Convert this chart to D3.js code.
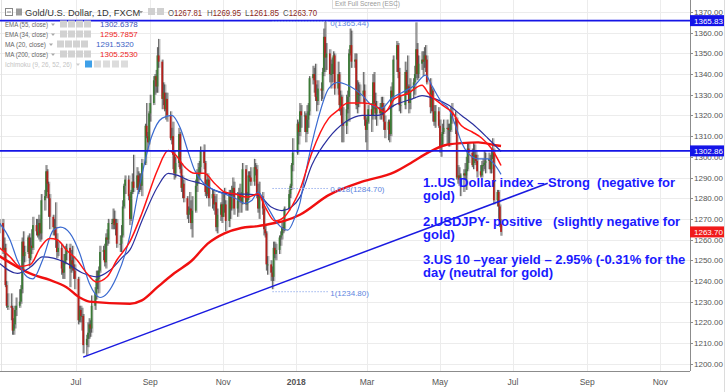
<!DOCTYPE html>
<html><head><meta charset="utf-8">
<script src="https://cdn.jsdelivr.net/npm/d3@7"></script>
<style>html,body{margin:0;padding:0;background:#fff;overflow:hidden}svg{display:block;font-family:"Liberation Sans",Arial,sans-serif}</style>
</head><body><svg id="c" width="727" height="392"></svg>
<script>
// ---------- DATA ----------
// daily candles: date, open, high, low, close
const candles = [
["2017-04-28",1266,1270,1263,1268],["2017-05-01",1268,1270,1253,1255],["2017-05-02",1255,1261,1251,1256],["2017-05-03",1256,1258,1237,1238],["2017-05-04",1238,1240,1227,1228],["2017-05-05",1228,1234,1226,1228],
["2017-05-08",1228,1234,1221,1227],["2017-05-09",1227,1228,1214,1216],["2017-05-10",1216,1222,1214,1219],["2017-05-11",1219,1228,1217,1226],["2017-05-12",1226,1232,1223,1228],
["2017-05-15",1228,1236,1227,1230],["2017-05-16",1230,1238,1229,1236],["2017-05-17",1236,1261,1234,1259],["2017-05-18",1259,1264,1245,1252],["2017-05-19",1252,1257,1249,1254],
["2017-05-22",1254,1262,1253,1261],["2017-05-23",1261,1263,1247,1251],["2017-05-24",1251,1261,1250,1257],["2017-05-25",1257,1265,1253,1256],["2017-05-26",1256,1271,1255,1267],
["2017-05-29",1267,1270,1262,1264],["2017-05-30",1264,1270,1261,1262],["2017-05-31",1262,1272,1260,1268],["2017-06-01",1268,1270,1259,1263],["2017-06-02",1263,1282,1260,1279],
["2017-06-05",1279,1284,1274,1281],["2017-06-06",1281,1296,1280,1293],["2017-06-07",1293,1294,1283,1287],["2017-06-08",1287,1288,1271,1280],["2017-06-09",1280,1282,1265,1271],
["2017-06-12",1271,1272,1262,1266],["2017-06-13",1266,1270,1262,1266],["2017-06-14",1266,1278,1256,1260],["2017-06-15",1260,1263,1251,1254],["2017-06-16",1254,1259,1252,1256],
["2017-06-19",1256,1258,1243,1246],["2017-06-20",1246,1250,1241,1244],["2017-06-21",1244,1253,1241,1249],["2017-06-22",1249,1257,1248,1253],["2017-06-23",1253,1258,1250,1256],
["2017-06-26",1256,1258,1237,1246],["2017-06-27",1246,1255,1244,1250],["2017-06-28",1250,1257,1245,1248],["2017-06-29",1248,1252,1241,1245],["2017-06-30",1245,1248,1236,1241],
["2017-07-03",1241,1242,1219,1221],["2017-07-04",1221,1228,1220,1226],["2017-07-05",1226,1228,1220,1223],["2017-07-06",1223,1227,1216,1223],["2017-07-07",1223,1224,1205,1209],
["2017-07-10",1209,1214,1204,1212],["2017-07-11",1212,1220,1208,1215],["2017-07-12",1215,1222,1212,1219],["2017-07-13",1219,1221,1213,1217],["2017-07-14",1217,1233,1215,1228],
["2017-07-17",1228,1237,1226,1234],["2017-07-18",1234,1245,1231,1241],["2017-07-19",1241,1245,1236,1241],["2017-07-20",1241,1247,1234,1245],["2017-07-21",1245,1257,1244,1254],
["2017-07-24",1254,1257,1250,1255],["2017-07-25",1255,1258,1247,1249],["2017-07-26",1249,1263,1246,1261],["2017-07-27",1261,1265,1257,1260],["2017-07-28",1260,1270,1258,1268],
["2017-07-31",1268,1270,1265,1268],["2017-08-01",1268,1275,1265,1270],["2017-08-02",1270,1274,1265,1267],["2017-08-03",1267,1270,1262,1268],["2017-08-04",1268,1270,1256,1258],
["2017-08-07",1258,1262,1254,1258],["2017-08-08",1258,1267,1254,1262],["2017-08-09",1262,1279,1261,1276],["2017-08-10",1276,1287,1275,1286],["2017-08-11",1286,1291,1282,1289],
["2017-08-14",1289,1291,1279,1281],["2017-08-15",1281,1282,1267,1270],["2017-08-16",1270,1284,1269,1283],["2017-08-17",1283,1292,1282,1288],["2017-08-18",1288,1301,1283,1285],
["2017-08-21",1285,1295,1284,1291],["2017-08-22",1291,1293,1282,1284],["2017-08-23",1284,1292,1283,1288],["2017-08-24",1288,1292,1284,1286],["2017-08-25",1286,1299,1281,1297],
["2017-08-28",1297,1316,1296,1315],["2017-08-29",1315,1326,1309,1310],["2017-08-30",1310,1312,1303,1307],["2017-08-31",1307,1322,1306,1321],["2017-09-01",1321,1330,1317,1326],
["2017-09-04",1326,1339,1325,1337],["2017-09-05",1337,1340,1330,1339],["2017-09-06",1339,1342,1331,1334],["2017-09-07",1334,1353,1331,1349],["2017-09-08",1349,1357,1343,1346],
["2017-09-11",1346,1347,1323,1328],["2017-09-12",1328,1336,1325,1331],["2017-09-13",1331,1335,1322,1323],["2017-09-14",1323,1331,1318,1328],["2017-09-15",1328,1331,1317,1320],
["2017-09-18",1320,1322,1308,1309],["2017-09-19",1309,1314,1306,1310],["2017-09-20",1310,1317,1294,1301],["2017-09-21",1301,1303,1289,1292],["2017-09-22",1292,1300,1290,1297],
["2017-09-25",1297,1314,1295,1311],["2017-09-26",1311,1312,1292,1294],["2017-09-27",1294,1297,1283,1285],["2017-09-28",1285,1291,1280,1287],["2017-09-29",1287,1289,1278,1280],
["2017-10-02",1280,1281,1270,1272],["2017-10-03",1272,1276,1268,1274],["2017-10-04",1274,1283,1272,1275],["2017-10-05",1275,1279,1265,1268],["2017-10-06",1268,1281,1261,1274],
["2017-10-09",1274,1289,1273,1286],["2017-10-10",1286,1294,1283,1292],["2017-10-11",1292,1297,1287,1291],["2017-10-12",1291,1298,1289,1295],["2017-10-13",1295,1305,1292,1303],
["2017-10-16",1303,1306,1294,1297],["2017-10-17",1297,1298,1281,1283],["2017-10-18",1283,1289,1280,1282],["2017-10-19",1282,1292,1281,1289],["2017-10-20",1289,1290,1276,1280],
["2017-10-23",1280,1284,1275,1282],["2017-10-24",1282,1284,1274,1277],["2017-10-25",1277,1281,1272,1278],["2017-10-26",1278,1282,1264,1266],["2017-10-27",1266,1275,1263,1272],
["2017-10-30",1272,1278,1269,1277],["2017-10-31",1277,1283,1268,1271],["2017-11-01",1271,1283,1271,1277],["2017-11-02",1277,1285,1273,1277],["2017-11-03",1277,1279,1264,1269],
["2017-11-06",1269,1284,1266,1282],["2017-11-07",1282,1284,1270,1275],["2017-11-08",1275,1286,1274,1282],["2017-11-09",1282,1290,1281,1285],["2017-11-10",1285,1288,1272,1275],
["2017-11-13",1275,1283,1271,1279],["2017-11-14",1279,1285,1273,1282],["2017-11-15",1282,1287,1278,1280],["2017-11-16",1280,1283,1273,1278],["2017-11-17",1278,1297,1277,1294],
["2017-11-20",1294,1296,1274,1277],["2017-11-21",1277,1283,1274,1280],["2017-11-22",1280,1293,1279,1291],["2017-11-23",1291,1293,1288,1290],["2017-11-24",1290,1295,1286,1288],
["2017-11-27",1288,1299,1286,1295],["2017-11-28",1295,1297,1291,1294],["2017-11-29",1294,1296,1280,1282],["2017-11-30",1282,1287,1273,1275],["2017-12-01",1275,1288,1270,1281],
["2017-12-04",1281,1283,1272,1275],["2017-12-05",1275,1276,1262,1265],["2017-12-06",1265,1267,1261,1263],["2017-12-07",1263,1264,1245,1248],["2017-12-08",1248,1252,1243,1248],
["2017-12-11",1248,1250,1240,1244],["2017-12-12",1244,1247,1236,1242],["2017-12-13",1242,1259,1240,1256],["2017-12-14",1256,1259,1251,1253],["2017-12-15",1253,1258,1250,1255],
["2017-12-18",1255,1262,1253,1261],["2017-12-19",1261,1264,1257,1262],["2017-12-20",1262,1269,1260,1266],["2017-12-21",1266,1269,1263,1265],["2017-12-22",1265,1276,1264,1275],
["2017-12-26",1275,1284,1274,1282],["2017-12-27",1282,1287,1280,1286],["2017-12-28",1286,1297,1284,1296],["2017-12-29",1296,1309,1293,1302],
["2018-01-02",1302,1318,1301,1316],["2018-01-03",1316,1317,1306,1312],["2018-01-04",1312,1326,1310,1322],["2018-01-05",1322,1325,1314,1320],
["2018-01-08",1320,1322,1312,1320],["2018-01-09",1320,1321,1307,1312],["2018-01-10",1312,1325,1311,1318],["2018-01-11",1318,1326,1314,1322],["2018-01-12",1322,1339,1320,1338],
["2018-01-15",1338,1344,1335,1340],["2018-01-16",1340,1343,1331,1337],["2018-01-17",1337,1345,1327,1329],["2018-01-18",1329,1335,1322,1327],["2018-01-19",1327,1337,1325,1333],
["2018-01-22",1333,1336,1327,1332],["2018-01-23",1332,1343,1328,1341],["2018-01-24",1341,1362,1339,1358],["2018-01-25",1358,1366,1341,1348],["2018-01-26",1348,1355,1342,1350],
["2018-01-29",1350,1352,1336,1340],["2018-01-30",1340,1347,1333,1340],["2018-01-31",1340,1348,1336,1345],["2018-02-01",1345,1351,1340,1349],["2018-02-02",1349,1350,1330,1333],
["2018-02-05",1333,1346,1330,1340],["2018-02-06",1340,1341,1322,1325],["2018-02-07",1325,1332,1320,1329],["2018-02-08",1329,1330,1307,1316],["2018-02-09",1316,1324,1307,1315],
["2018-02-12",1315,1330,1311,1323],["2018-02-13",1323,1332,1321,1329],["2018-02-14",1329,1352,1317,1350],["2018-02-15",1350,1362,1349,1354],["2018-02-16",1354,1361,1343,1346],
["2018-02-19",1346,1350,1343,1347],["2018-02-20",1347,1350,1323,1325],["2018-02-21",1325,1337,1321,1332],["2018-02-22",1332,1336,1324,1330],["2018-02-23",1330,1335,1326,1330],
["2018-02-26",1330,1341,1326,1332],["2018-02-27",1332,1335,1315,1318],["2018-02-28",1318,1320,1307,1313],["2018-03-01",1313,1319,1303,1317],["2018-03-02",1317,1325,1316,1323],
["2018-03-05",1323,1326,1312,1320],["2018-03-06",1320,1340,1318,1336],["2018-03-07",1336,1341,1323,1326],["2018-03-08",1326,1331,1318,1321],["2018-03-09",1321,1327,1315,1324],
["2018-03-12",1324,1326,1318,1321],["2018-03-13",1321,1329,1318,1326],["2018-03-14",1326,1329,1320,1324],["2018-03-15",1324,1326,1313,1317],["2018-03-16",1317,1320,1309,1313],
["2018-03-19",1313,1318,1308,1317],["2018-03-20",1317,1318,1307,1311],["2018-03-21",1311,1334,1310,1332],["2018-03-22",1332,1336,1324,1329],["2018-03-23",1329,1349,1328,1347],
["2018-03-26",1347,1356,1341,1354],["2018-03-27",1354,1355,1338,1341],["2018-03-28",1341,1343,1322,1325],["2018-03-29",1325,1330,1321,1325],
["2018-04-02",1325,1346,1323,1341],["2018-04-03",1341,1342,1330,1333],["2018-04-04",1333,1349,1330,1334],["2018-04-05",1334,1335,1321,1326],["2018-04-06",1326,1338,1323,1332],
["2018-04-09",1332,1338,1328,1336],["2018-04-10",1336,1344,1330,1340],["2018-04-11",1340,1365,1338,1352],["2018-04-12",1352,1355,1337,1340],["2018-04-13",1340,1349,1338,1345],
["2018-04-16",1345,1351,1342,1347],["2018-04-17",1347,1351,1339,1346],["2018-04-18",1346,1353,1343,1349],["2018-04-19",1349,1354,1341,1347],["2018-04-20",1347,1349,1335,1336],
["2018-04-23",1336,1338,1321,1324],["2018-04-24",1324,1334,1322,1332],["2018-04-25",1332,1333,1317,1322],["2018-04-26",1322,1325,1315,1317],["2018-04-27",1317,1325,1314,1322],
["2018-04-30",1322,1324,1314,1315],["2018-05-01",1315,1318,1302,1305],["2018-05-02",1305,1311,1300,1306],["2018-05-03",1306,1316,1305,1312],["2018-05-04",1312,1318,1311,1314],
["2018-05-07",1314,1318,1306,1314],["2018-05-08",1314,1316,1305,1313],["2018-05-09",1313,1316,1305,1313],["2018-05-10",1313,1324,1312,1321],["2018-05-11",1321,1326,1316,1319],
["2018-05-14",1319,1322,1311,1318],["2018-05-15",1318,1319,1289,1290],["2018-05-16",1290,1296,1287,1291],["2018-05-17",1291,1295,1286,1289],["2018-05-18",1289,1292,1281,1291],
["2018-05-21",1291,1294,1283,1292],["2018-05-22",1292,1297,1289,1291],["2018-05-23",1291,1300,1284,1294],["2018-05-24",1294,1307,1293,1304],["2018-05-25",1304,1307,1297,1302],
["2018-05-28",1302,1304,1295,1296],["2018-05-29",1296,1307,1294,1299],["2018-05-30",1299,1306,1297,1301],["2018-05-31",1301,1303,1296,1298],["2018-06-01",1298,1301,1290,1293],
["2018-06-04",1293,1296,1290,1291],["2018-06-05",1291,1298,1290,1296],["2018-06-06",1296,1299,1293,1296],["2018-06-07",1296,1303,1294,1297],["2018-06-08",1297,1302,1292,1298],
["2018-06-11",1298,1302,1294,1299],["2018-06-12",1299,1301,1292,1294],["2018-06-13",1294,1304,1292,1299],["2018-06-14",1299,1309,1299,1302],["2018-06-15",1302,1304,1277,1279],
["2018-06-18",1279,1284,1276,1283],["2018-06-19",1283,1284,1270,1276],["2018-06-20",1276,1277,1266,1268],["2018-06-21",1267.81,1269.95,1261.85,1263.70]
];

// indicator lines: [date, value]
const ma200 = [["2017-04-28",1252],["2017-05-26",1243],["2017-06-09",1240.5],["2017-06-23",1237],["2017-07-04",1232],["2017-07-12",1230],["2017-08-15",1229],["2017-08-25",1230.6],["2017-09-07",1237],["2017-09-21",1243.7],["2017-10-06",1250],["2017-10-19",1258],["2017-11-02",1263],["2017-11-16",1265.6],["2017-11-30",1266.5],["2017-12-14",1268],["2017-12-22",1269],["2018-01-04",1272],["2018-01-28",1281.5],["2018-02-25",1288],["2018-03-24",1292.6],["2018-04-08",1297.5],["2018-04-21",1302],["2018-05-05",1305.6],["2018-05-19",1306.6],["2018-06-02",1307],["2018-06-16",1305.6],["2018-06-21",1305.25]];
const ema34 = [["2017-04-28",1256],["2017-05-07",1251.6],["2017-05-15",1247],["2017-05-24",1248],["2017-06-01",1256],["2017-06-09",1260.5],["2017-06-15",1260],["2017-06-23",1255],["2017-07-02",1250],["2017-07-10",1243.7],["2017-07-18",1239.5],["2017-07-27",1242],["2017-08-04",1250],["2017-08-15",1259],["2017-08-25",1272.6],["2017-09-07",1293.5],["2017-09-16",1303],["2017-09-21",1301.6],["2017-09-30",1295],["2017-10-08",1292],["2017-10-16",1292],["2017-10-25",1287],["2017-11-02",1283],["2017-11-11",1282],["2017-11-21",1280.5],["2017-11-30",1282],["2017-12-06",1275.7],["2017-12-14",1269],["2017-12-22",1271],["2017-12-31",1279],["2018-01-04",1284],["2018-01-14",1302],["2018-01-28",1318.6],["2018-02-05",1322.6],["2018-02-13",1326],["2018-02-25",1326],["2018-03-07",1325],["2018-03-16",1321.6],["2018-03-24",1328],["2018-04-04",1330.6],["2018-04-16",1334.6],["2018-04-21",1331],["2018-05-03",1325],["2018-05-11",1321.6],["2018-05-19",1315],["2018-05-28",1312],["2018-06-05",1309],["2018-06-13",1304],["2018-06-21",1295.79]];
const ema55 = [["2017-04-28",1248.6],["2017-05-13",1243.7],["2017-05-24",1246.7],["2017-06-03",1251.6],["2017-06-12",1251],["2017-06-23",1248.6],["2017-07-07",1243.7],["2017-07-18",1242],["2017-07-29",1245],["2017-08-09",1251.6],["2017-08-15",1255],["2017-08-25",1269],["2017-09-07",1285.4],["2017-09-16",1292],["2017-09-24",1291],["2017-10-03",1288.7],["2017-10-14",1287],["2017-10-25",1283.8],["2017-11-08",1282],["2017-11-19",1282],["2017-11-30",1281.5],["2017-12-11",1275.7],["2017-12-20",1274],["2017-12-28",1275.7],["2018-01-04",1280.5],["2018-01-14",1296],["2018-01-28",1309],["2018-02-11",1316.8],["2018-02-25",1320],["2018-03-10",1320],["2018-03-24",1325],["2018-04-08",1328],["2018-04-16",1329.6],["2018-04-27",1328],["2018-05-08",1325],["2018-05-19",1320],["2018-05-30",1315],["2018-06-10",1309],["2018-06-21",1302.64]];
const ma20 = [["2017-04-28",1268],["2017-05-07",1259.7],["2017-05-13",1250],["2017-05-21",1242],["2017-05-26",1241],["2017-06-03",1250],["2017-06-12",1264.5],["2017-06-18",1266],["2017-06-26",1263],["2017-07-04",1253.5],["2017-07-12",1239],["2017-07-21",1232],["2017-07-27",1234],["2017-08-04",1242],["2017-08-12",1255],["2017-08-15",1262],["2017-08-22",1283],["2017-09-02",1309.6],["2017-09-11",1318.7],["2017-09-19",1320],["2017-09-26",1314],["2017-10-03",1301.8],["2017-10-08",1293.6],["2017-10-16",1287],["2017-10-25",1283.8],["2017-11-02",1282],["2017-11-11",1280],["2017-11-19",1277.5],["2017-11-25",1279],["2017-11-30",1283],["2017-12-08",1275.7],["2017-12-16",1268],["2017-12-25",1264.6],["2017-12-31",1271],["2018-01-04",1277.6],["2018-01-08",1290],["2018-01-19",1318],["2018-01-28",1333],["2018-02-05",1336],["2018-02-13",1334.6],["2018-02-25",1329.8],["2018-03-05",1325],["2018-03-13",1323.5],["2018-03-22",1328.5],["2018-03-30",1331],["2018-04-10",1334.6],["2018-04-19",1339.5],["2018-04-24",1334.6],["2018-05-03",1326],["2018-05-08",1323.5],["2018-05-14",1315],["2018-05-19",1307],["2018-05-24",1302],["2018-06-02",1299],["2018-06-10",1299],["2018-06-16",1296],["2018-06-21",1291.53]];

const priceTicks = [1200,1210,1220,1230,1240,1250,1260,1270,1280,1290,1300,1310,1320,1330,1340,1350,1360,1370];
const monthTickDates = ["2017-07-01","2017-09-01","2017-11-01","2018-01-01","2018-03-01","2018-05-01","2018-07-01","2018-09-01","2018-11-01"];
const monthTickLabels = ["Jul","Sep","Nov","2018","Mar","May","Jul","Sep","Nov"];
const levelPrices = [1365.83, 1302.86];
const lastClose = 1263.70;
const trendDates = ["2017-07-07","2018-07-30"];
const trendPrices = [1203.2, 1287.2];
const fibDates = ["2017-12-12","2018-01-26"];
const fibRatios = ["0","0.618","1"];
const fibPrices = [1365.44, 1284.70, 1234.80];
const legendNames = ["EMA (55, close)","EMA (34, close)","MA (20, close)","MA (200, close)"];
const legendValues = ["1302.6378","1295.7857","1291.5320","1305.2530"];
const header = {title:"Gold/U.S. Dollar, 1D, FXCM", o:"1267.81", h:"1269.95", l:"1261.85", c:"1263.70"};
const notes = [
 ["1..US Dollar index \u2013 Strong\u00a0\u00a0(negative for","gold)"],
 ["2.USDJPY- positive\u00a0\u00a0\u00a0(slightly negative for","gold)"],
 ["3.US 10 \u2013year yield \u2013 2.95% (-0.31% for the","day (neutral for gold)"]
];

// ---------- CHART ----------
const W = 727, H = 392, plotR = 690, plotB = 371;
const parse = d3.timeParse("%Y-%m-%d");
const svg = d3.select("#c");
const x = d3.scaleTime().domain([new Date(2017,3,28,12), new Date(2018,10,25,20)]).range([0, plotR]);
const y = d3.scaleLinear().domain([1200,1370]).range([363.7, 12]);

svg.append("rect").attr("width",W).attr("height",H).attr("fill","#fff");
svg.append("defs").append("clipPath").attr("id","clip").append("rect").attr("x",0).attr("y",0).attr("width",plotR).attr("height",plotB);

// grid
const grid = svg.append("g").attr("stroke","#ececec").attr("stroke-width",1);
grid.selectAll(".hg").data(priceTicks).join("line").attr("x1",0).attr("x2",plotR)
  .attr("y1",d=>Math.round(y(d))+0.5).attr("y2",d=>Math.round(y(d))+0.5);
grid.selectAll(".vg").data(monthTickDates).join("line")
  .attr("x1",d=>Math.round(x(parse(d)))+0.5).attr("x2",d=>Math.round(x(parse(d)))+0.5).attr("y1",0).attr("y2",plotB);
svg.append("line").attr("x1",1.5).attr("x2",1.5).attr("y1",0).attr("y2",plotB).attr("stroke","#e3e3e3");

const plot = svg.append("g").attr("clip-path","url(#clip)");

// candles
const cg = plot.append("g");
candles.forEach(([ds,o,h,l,c])=>{
  const cx = x(parse(ds));
  cg.append("line").attr("x1",cx+1.2).attr("x2",cx+1.2).attr("y1",y(h)).attr("y2",y(l)).attr("stroke","#b5b5b5").attr("stroke-width",1.2);
  cg.append("line").attr("x1",cx).attr("x2",cx).attr("y1",y(h)).attr("y2",y(l)).attr("stroke","#4a4a4a").attr("stroke-width",0.9);
  const top = y(Math.max(o,c)), bot = y(Math.min(o,c));
  cg.append("rect").attr("x",cx-0.9).attr("width",1.8).attr("y",top).attr("height",Math.max(1,bot-top))
    .attr("fill", c>=o ? "#3b7a36" : "#b3201c");
});

// indicator lines
const line = d3.line().x(d=>x(parse(d[0]))).y(d=>y(d[1])).curve(d3.curveMonotoneX);
plot.append("path").datum(ma200).attr("d",line).attr("fill","none").attr("stroke","#f01010").attr("stroke-width",2.4);
plot.append("path").datum(ema55).attr("d",line).attr("fill","none").attr("stroke","#2a2f9e").attr("stroke-width",1.2);
plot.append("path").datum(ma20).attr("d",line).attr("fill","none").attr("stroke","#3a6ad0").attr("stroke-width",1.2);
plot.append("path").datum(ema34).attr("d",line).attr("fill","none").attr("stroke","#ff1414").attr("stroke-width",1.5);

// horizontal levels
plot.selectAll(".lvl").data(levelPrices).join("line").attr("x1",0).attr("x2",plotR)
  .attr("y1",d=>y(d)).attr("y2",d=>y(d)).attr("stroke","#1515e6").attr("stroke-width",1.6);

// trend line
plot.append("line").attr("x1",x(parse(trendDates[0]))).attr("y1",y(trendPrices[0]))
  .attr("x2",x(parse(trendDates[1]))).attr("y2",y(trendPrices[1])).attr("stroke","#1a1ae0").attr("stroke-width",1.5);

// fib levels
const fx0 = x(parse(fibDates[0])), fx1 = x(parse(fibDates[1]));
fibPrices.forEach((p,i)=>{
  plot.append("line").attr("x1",fx0).attr("x2",fx1+2).attr("y1",y(p)).attr("y2",y(p))
    .attr("stroke","#9db4ee").attr("stroke-width",1).attr("stroke-dasharray","1.5,1.5");
  svg.append("text").attr("x",fx1+4).attr("y",y(p)+(i===0?5:4)).attr("font-size",8).attr("fill","#5d86e0")
    .text(fibRatios[i]+"("+fibPrices[i].toFixed(2)+")");
});

// axes lines
svg.append("line").attr("x1",plotR+0.5).attr("x2",plotR+0.5).attr("y1",0).attr("y2",plotB).attr("stroke","#8c8c8c");
svg.append("line").attr("x1",0).attr("x2",plotR).attr("y1",plotB+0.5).attr("y2",plotB+0.5).attr("stroke","#8c8c8c");
svg.append("line").attr("x1",724.5).attr("x2",724.5).attr("y1",0).attr("y2",H).attr("stroke","#dcdcdc");

// y labels
const yl = svg.append("g");
priceTicks.forEach(p=>{
  yl.append("line").attr("x1",plotR).attr("x2",plotR+3).attr("y1",Math.round(y(p))+0.5).attr("y2",Math.round(y(p))+0.5).attr("stroke","#8c8c8c");
  yl.append("text").attr("x",plotR+4).attr("y",y(p)+3).attr("font-size",8).attr("fill","#555").text(p.toFixed(2));
});
// x labels
monthTickDates.forEach((d,i)=>{
  svg.append("text").attr("x",x(parse(d))).attr("y",385).attr("text-anchor","middle").attr("font-size",8.5)
    .attr("fill","#555").attr("font-weight",monthTickLabels[i]==="2018"?"bold":"normal").text(monthTickLabels[i]);
});

// price boxes
function priceBox(p,color){
  const cy = y(p);
  svg.append("rect").attr("x",plotR).attr("y",cy-5.5).attr("width",34).attr("height",11).attr("fill",color);
  svg.append("text").attr("x",plotR+4).attr("y",cy+3).attr("font-size",8).attr("fill","#fff").text(p.toFixed(2));
}
levelPrices.forEach(p=>priceBox(p,"#1414e8"));
priceBox(lastClose,"#f01a1a");

// small dropdown caret drawn as a path
function caret(px,py,col){
  svg.append("path").attr("d",`M${px},${py} l4,0 l-2,2.5 z`).attr("fill",col);
}

// header
const hd = svg.append("g");
hd.append("rect").attr("x",5.5).attr("y",8.5).attr("width",7).attr("height",7).attr("fill","none").attr("stroke","#888");
hd.append("line").attr("x1",7).attr("x2",11).attr("y1",12).attr("y2",12).attr("stroke","#888");
hd.append("rect").attr("x",16).attr("y",8.5).attr("width",6).attr("height",7).attr("fill","#9a9a9a");
hd.append("text").attr("x",25).attr("y",16).attr("font-size",9.3).attr("fill","#333").text(header.title);
caret(139,11,"#999");
[148,157].forEach(px=>hd.append("rect").attr("x",px).attr("y",8).attr("width",7).attr("height",7).attr("fill","#d0d0d0"));
[["O",header.o,168],["H",header.h,207],["L",header.l,245],["C",header.c,283]].forEach(([k,v,px])=>{
  const t = hd.append("text").attr("x",px).attr("y",16).attr("font-size",9.3).attr("textLength",34).attr("lengthAdjust","spacingAndGlyphs");
  t.append("tspan").attr("fill","#555").text(k);
  t.append("tspan").attr("fill","#8c2a22").text(v);
});
// exit fullscreen tip
hd.append("rect").attr("x",332.5).attr("y",-1).attr("width",64).attr("height",9.5).attr("fill","#fff").attr("stroke","#ddd");
hd.append("text").attr("x",335).attr("y",6).attr("font-size",6.5).attr("fill","#999").text("Exit Full Screen (ESC)");

// legend
const legColors = ["#3b4fb8","#ee1c1c","#3b62c4","#ee1c1c"];
const legTextEnd = [48,48,46,48];
const legIconX = [60,60,57,60];
const legValX = [100,100,96,100];
legendNames.forEach((n,i)=>{
  const cy = 24 + i*10;
  svg.append("text").attr("x",5).attr("y",cy+3).attr("font-size",8).attr("fill","#666").attr("textLength",legTextEnd[i]-5).attr("lengthAdjust","spacingAndGlyphs").text(n);
  caret(legTextEnd[i]+3,cy-0.5,"#aaa");
  for(let k=0;k<4;k++) svg.append("rect").attr("x",legIconX[i]+k*8).attr("y",cy-3.5).attr("width",7).attr("height",7).attr("fill","#d2d2d2");
  svg.append("text").attr("x",legValX[i]).attr("y",cy+3).attr("font-size",8).attr("fill",legColors[i]).text(legendValues[i]);
});
svg.append("text").attr("x",5).attr("y",67).attr("font-size",8).attr("fill","#c4c4c4").attr("textLength",67).attr("lengthAdjust","spacingAndGlyphs").text("Ichimoku (9, 26, 52, 26)");
caret(76,63.5,"#ccc");
[85,94,103,112,121].forEach((px,k)=>svg.append("rect").attr("x",px).attr("y",60.5).attr("width",7).attr("height",7).attr("fill",k===0?"#3fa0e8":"#dcdcdc"));

// annotations
const ann = svg.append("g").attr("font-size",13).attr("font-weight","bold").attr("fill","#1a1aff");
const noteY = [187,225.5,264];
notes.forEach((pair,i)=>{
  ann.append("text").attr("x",423).attr("y",noteY[i]).text(pair[0]);
  ann.append("text").attr("x",423).attr("y",noteY[i]+13).text(pair[1]);
});
</script></body></html>
